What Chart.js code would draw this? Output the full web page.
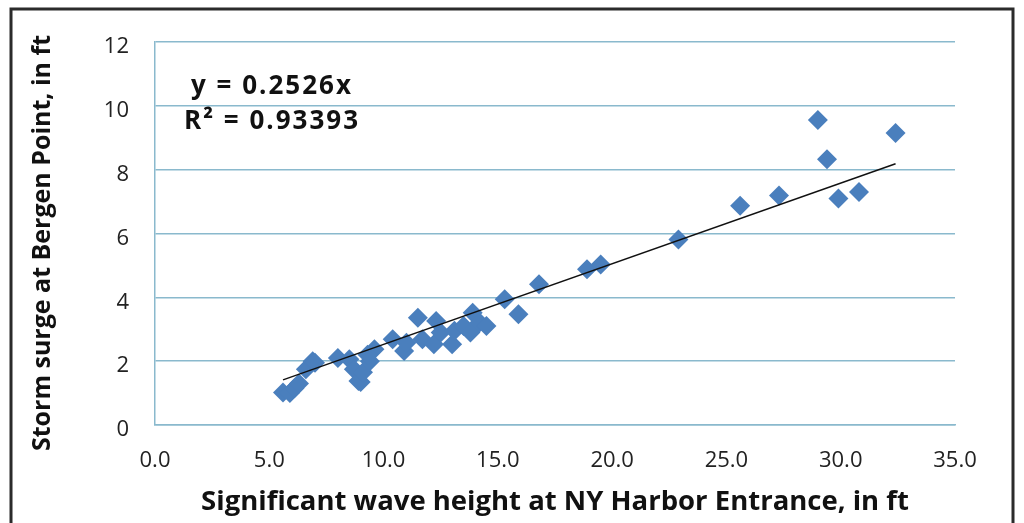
<!DOCTYPE html>
<html>
<head>
<meta charset="utf-8">
<script src="https://cdn.jsdelivr.net/npm/chart.js@4"></script>
<style>
html,body{margin:0;padding:0;background:#fff;}
#wrap{width:1024px;height:523px;position:relative;}
</style>
</head>
<body>
<div id="wrap"><canvas id="c" width="1024" height="523"></canvas></div>
<script>
// Significant wave height at NY Harbor Entrance (ft)
const waveHeight = [5.6, 5.9, 6.1, 6.3, 6.6, 6.9, 7.0, 8.0, 8.5, 8.7, 8.9, 9.0, 9.1, 9.4, 9.6, 9.3,
  10.4, 10.9, 11.0, 11.5, 11.7, 12.2, 12.3, 12.5, 13.0, 13.1, 13.5, 13.8, 13.9, 14.2, 14.5,
  15.3, 15.9, 16.8, 18.9, 19.5, 22.9, 25.6, 27.3, 29.0, 29.4, 29.9, 30.8, 32.4];
// Storm surge at Bergen Point (ft)
const stormSurge = [1.02, 1.0, 1.15, 1.3, 1.75, 2.0, 1.95, 2.1, 2.06, 1.75, 1.38, 1.35, 1.65, 2.0, 2.37, 2.2,
  2.69, 2.32, 2.58, 3.36, 2.69, 2.53, 3.26, 2.9, 2.53, 2.95, 3.1, 2.9, 3.52, 3.21, 3.1,
  3.94, 3.47, 4.41, 4.88, 5.03, 5.81, 6.87, 7.19, 9.56, 8.33, 7.1, 7.3, 9.15];
const trendSlope = 0.2526;
const trendR2 = '0.93393';
const xTicks = [0, 5, 10, 15, 20, 25, 30, 35];
const yTicks = [0, 2, 4, 6, 8, 10, 12];

const points = waveHeight.map((x, i) => ({x: x, y: stormSurge[i]}));
const xMin = Math.min(...waveHeight), xMax = Math.max(...waveHeight);
const trend = [{x: xMin, y: trendSlope * xMin}, {x: xMax, y: trendSlope * xMax}];

const FONT = '"Open Sans", Lato, sans-serif';
const gridColor = '#8ab9cd';

const decor = {
  id: 'decor',
  afterDraw(chart) {
    const ctx = chart.ctx, a = chart.chartArea;
    ctx.save();
    ctx.strokeStyle = '#2b2b2b';
    ctx.lineWidth = 3;
    ctx.strokeRect(11, 9, 1002, 530);
    ctx.fillStyle = '#111';
    ctx.font = 'bold 26px ' + FONT;
    try { ctx.letterSpacing = '2px'; } catch (e) {}
    ctx.textAlign = 'center';
    ctx.textBaseline = 'middle';
    const cx = a.left + 117;
    ctx.fillText('y = ' + trendSlope + 'x', cx, 87);
    ctx.fillText('R\u00B2 = ' + trendR2, cx, 122);
    ctx.restore();
  }
};

new Chart(document.getElementById('c'), {
  type: 'scatter',
  data: {
    datasets: [
      {
        data: points,
        pointStyle: 'rectRot',
        pointRadius: 10,
        pointHoverRadius: 10,
        backgroundColor: '#4a7fbd',
        borderColor: '#4a7fbd',
        borderWidth: 0,
        order: 2
      },
      {
        type: 'line',
        data: trend,
        borderColor: '#111',
        borderWidth: 1.5,
        pointRadius: 0,
        fill: false,
        order: 1
      }
    ]
  },
  options: {
    responsive: false,
    animation: false,
    events: [],
    layout: {padding: {top: 42, right: 69, left: 0, bottom: 0}},
    plugins: {legend: {display: false}, tooltip: {enabled: false}},
    scales: {
      x: {
        type: 'linear',
        min: 0, max: 35,
        afterBuildTicks(s) { s.ticks = xTicks.map(v => ({value: v})); },
        afterFit(s) { s.height = 98; },
        grid: {display: false, drawTicks: false},
        border: {display: true, color: gridColor, width: 1.5},
        ticks: {
          padding: 23,
          color: '#222',
          font: {family: FONT, size: 22},
          callback: v => Number(v).toFixed(1)
        },
        title: {
          display: true,
          text: 'Significant wave height at NY Harbor Entrance, in ft',
          color: '#111',
          font: {family: FONT, size: 27.5, weight: 'bold'},
          padding: {top: 0, bottom: 4}
        }
      },
      y: {
        type: 'linear',
        min: 0, max: 12,
        afterBuildTicks(s) { s.ticks = yTicks.map(v => ({value: v})); },
        afterFit(s) { s.width = 155; },
        grid: {color: gridColor, lineWidth: 1.5, drawTicks: false},
        border: {display: true, color: gridColor, width: 1.5},
        ticks: {
          padding: 26,
          labelOffset: 5,
          color: '#222',
          font: {family: FONT, size: 22}
        },
        title: {
          display: true,
          text: 'Storm surge at Bergen Point, in ft\u2002 ',
          color: '#111',
          font: {family: FONT, size: 25, weight: 'bold'},
          padding: {top: 28, bottom: 0}
        }
      }
    }
  },
  plugins: [decor]
});
</script>
</body>
</html>
